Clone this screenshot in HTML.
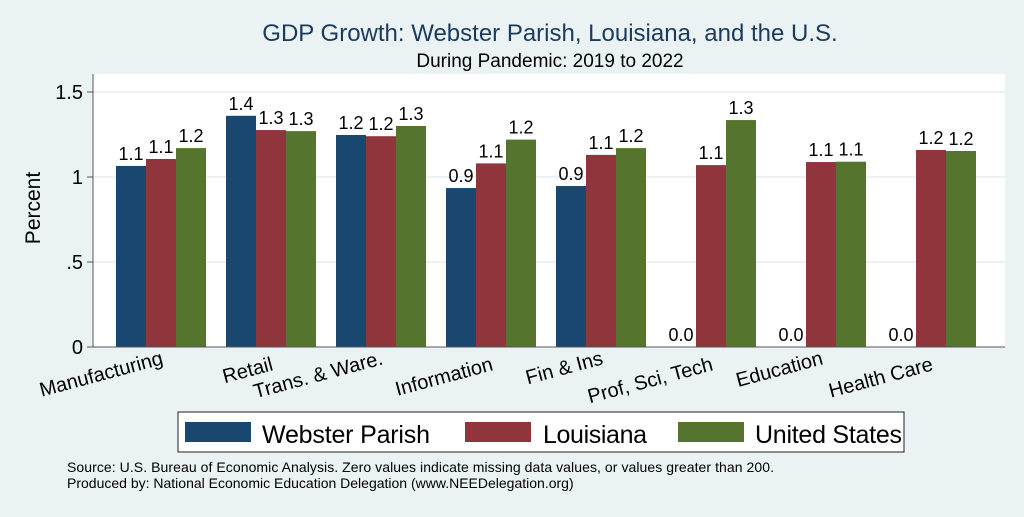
<!DOCTYPE html>
<html><head><meta charset="utf-8"><style>
body{margin:0;background:#eaf2f3;}
svg text{font-family:"Liberation Sans",sans-serif;}
</style></head><body>
<svg width="1024" height="512" xmlns="http://www.w3.org/2000/svg">
<rect x="0" y="0" width="1024" height="512" fill="#eaf2f3"/>
<text x="550" y="41" font-size="24" fill="#1a3a5e" text-anchor="middle">GDP Growth: Webster Parish, Louisiana, and the U.S.</text>
<text x="550" y="67" font-size="19" text-anchor="middle">During Pandemic: 2019 to 2022</text>
<rect x="93" y="74" width="912" height="273" fill="#fff"/>
<g id="grid"></g>
<g id="bars"></g>
<line x1="93" y1="74" x2="93" y2="347" stroke="#555"/>
<line x1="93" y1="347" x2="1005" y2="347" stroke="#555"/>
<text transform="translate(40,208) rotate(-90)" font-size="21" text-anchor="middle">Percent</text>
<g>
<rect x="178" y="412" width="726" height="40" fill="#fff" stroke="#222"/>
<rect x="185" y="422" width="66" height="20" fill="#1a476f"/>
<text x="262" y="443" font-size="25" textLength="168">Webster Parish</text>
<rect x="465" y="422" width="66" height="20" fill="#90353b"/>
<text x="543" y="443" font-size="25" textLength="104">Louisiana</text>
<rect x="678" y="422" width="66" height="20" fill="#55752f"/>
<text x="755" y="443" font-size="25" textLength="147">United States</text>
</g>
<text x="67" y="472" font-size="14" textLength="707">Source: U.S. Bureau of Economic Analysis. Zero values indicate missing data values, or values greater than 200.</text>
<text x="67" y="488" font-size="14">Produced by: National Economic Education Delegation (www.NEEDelegation.org)</text>
</svg>
<script>
const categories=["Manufacturing","Retail","Trans. & Ware.","Information","Fin & Ins","Prof, Sci, Tech","Education","Health Care"];
const webster=[1.065,1.36,1.247,0.935,0.947,0,0,0];
const louisiana=[1.106,1.276,1.24,1.08,1.13,1.07,1.088,1.159];
const us=[1.17,1.27,1.30,1.22,1.17,1.335,1.09,1.153];
const websterLabels=["1.1","1.4","1.2","0.9","0.9","0.0","0.0","0.0"];
const louisianaLabels=["1.1","1.3","1.2","1.1","1.1","1.1","1.1","1.2"];
const usLabels=["1.2","1.3","1.3","1.2","1.2","1.3","1.1","1.2"];
const yTicks=[0,0.5,1,1.5];
const yTickLabels=["0",".5","1","1.5"];
const NS="http://www.w3.org/2000/svg";
const y=v=>347-v*170;
const x=i=>116+i*110;
const bw=30;
const grid=document.getElementById('grid');
const bars=document.getElementById('bars');
function mk(tag,attrs,parent){const e=document.createElementNS(NS,tag);for(const k in attrs)e.setAttribute(k,attrs[k]);parent.appendChild(e);return e;}
yTicks.forEach((t,i)=>{
  if(t>0){const g=mk('line',{x1:93,x2:1005,y1:y(t),y2:y(t),stroke:'#e6eef0','stroke-width':1.5},grid);
  
  }
  const tk=mk('line',{x1:87,x2:93,y1:y(t),y2:y(t),stroke:'#555'},grid);
  
  
  const tl=mk('text',{x:83,y:y(t)+7,'font-size':20,'text-anchor':'end'},grid);
  tl.textContent=yTickLabels[i];
  
  
});
const series=[[webster,websterLabels,'#1a476f','webster'],[louisiana,louisianaLabels,'#90353b','louisiana'],[us,usLabels,'#55752f','us']];
categories.forEach((c,i)=>{
  series.forEach((s,j)=>{
    const v=s[0][i];const bx=x(i)+j*bw;
    if(v>0){const r=mk('rect',{x:bx,y:y(v),width:bw,height:y(0)-y(v),fill:s[2]},bars);
    
    }
    const t=mk('text',{x:bx+bw/2,y:y(v)-6,'font-size':18,'text-anchor':'middle'},bars);
    t.textContent=s[1][i];
    
    
  });
  const cx=x(i)+45;
  const xl=mk('text',{transform:'translate('+(cx+3)+','+(i%2?370:364)+') rotate(-15)','font-size':20,'text-anchor':'end'},bars);
  xl.textContent=c;
  
  
});
</script>
</body></html>
